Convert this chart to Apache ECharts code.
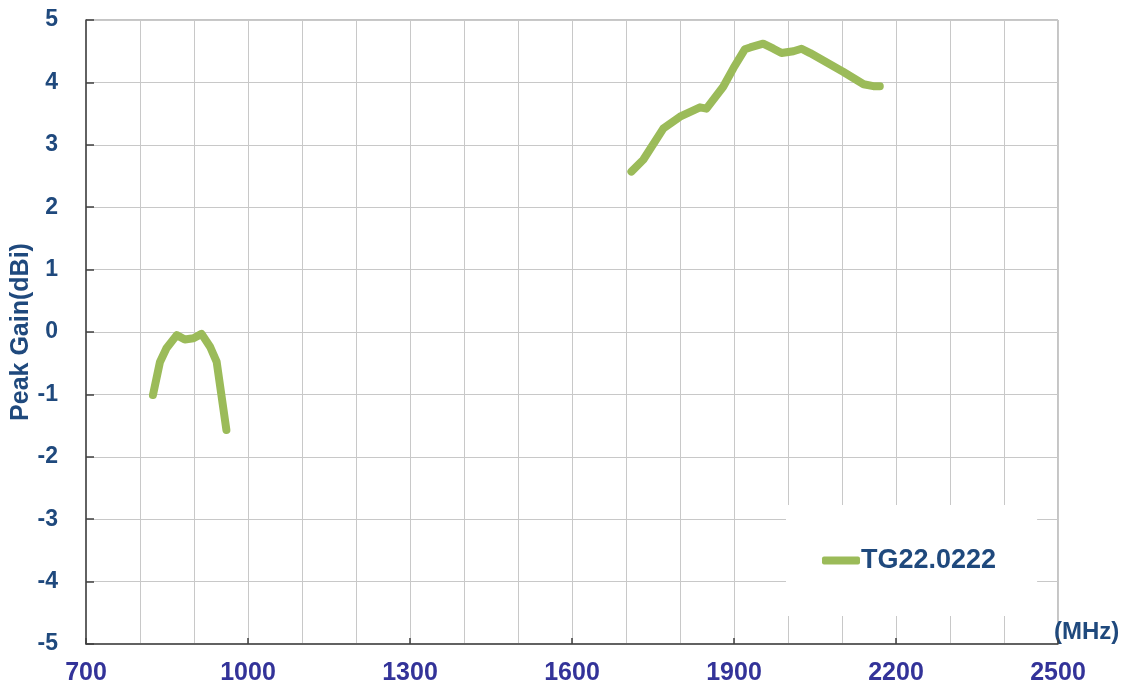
<!DOCTYPE html>
<html><head><meta charset="utf-8">
<script src="https://cdn.jsdelivr.net/npm/echarts@6/dist/echarts.min.js"></script>
<style>html,body{margin:0;padding:0;background:#fff}#c{width:1130px;height:691px}</style>
</head><body><div id="c"></div>
<script>
const seriesName = 'TG22.0222';
const lowFreq = [824, 837, 849, 868, 883, 899, 914, 930, 942, 960];
const lowGain = [-1.01, -0.48, -0.26, -0.05, -0.12, -0.10, -0.03, -0.24, -0.48, -1.57];
const highFreq = [1710, 1732, 1769, 1800, 1837, 1849, 1880, 1899, 1920, 1930, 1954, 1973, 1988, 2010, 2025, 2041, 2102, 2140, 2158, 2170];
const highGain = [2.57, 2.76, 3.26, 3.45, 3.60, 3.58, 3.93, 4.23, 4.53, 4.56, 4.62, 4.54, 4.47, 4.50, 4.54, 4.47, 4.17, 3.97, 3.94, 3.94];

const data = [];
lowFreq.forEach((f, i) => data.push([f, lowGain[i]]));
data.push([null, null]);
highFreq.forEach((f, i) => data.push([f, highGain[i]]));

const FONT = 'Liberation Sans, Arial, sans-serif';
const chart = echarts.init(document.getElementById('c'));
chart.setOption({
  animation: false,
  backgroundColor: '#fff',
  grid: { left: 86, top: 20, right: 72, bottom: 47, containLabel: false, outerBoundsMode: 'none',
          show: true, borderColor: '#8a8a8a', borderWidth: 1, backgroundColor: 'transparent' },
  legend: {
    data: [seriesName],
    left: 786, top: 505,
    padding: [42, 41, 42, 36],
    backgroundColor: '#fff',
    itemWidth: 38, itemHeight: 8, itemGap: 0,
    icon: 'roundRect',
    textStyle: { color: '#1F497D', fontSize: 27, fontWeight: 'bold', fontFamily: FONT, padding: [0,0,0,-4] }
  },
  xAxis: {
    type: 'value', min: 700, max: 2500, interval: 300,
    name: '(MHz)', nameLocation: 'end', nameGap: -4, nameMoveOverlap: false,
    nameTextStyle: { color: '#1F497D', fontSize: 24, fontWeight: 'bold', fontFamily: FONT, verticalAlign: 'bottom', align: 'left' },
    axisLine: { show: true, onZero: false, lineStyle: { color: '#404040', width: 1.5 } },
    axisTick: { show: true, inside: true, length: 6, lineStyle: { color: '#404040', width: 1.5 } },
    minorTick: { show: false, splitNumber: 3 },
    splitLine: { show: true, lineStyle: { color: '#c8c8c8', width: 1 } },
    minorSplitLine: { show: true, lineStyle: { color: '#c8c8c8', width: 1 } },
    axisLabel: { color: '#333399', fontSize: 25, fontWeight: 'bold', fontFamily: FONT, margin: 17,
                 formatter: v => String(v) }
  },
  yAxis: {
    type: 'value', min: -5, max: 5, interval: 1,
    name: 'Peak Gain(dBi)', nameLocation: 'middle', nameGap: 52, nameRotate: 90, nameMoveOverlap: false,
    nameTextStyle: { color: '#1F497D', fontSize: 25, fontWeight: 'bold', fontFamily: FONT },
    axisLine: { show: true, lineStyle: { color: '#404040', width: 1.5 } },
    axisTick: { show: true, inside: true, length: 8, lineStyle: { color: '#404040', width: 1.5 } },
    splitLine: { show: true, lineStyle: { color: '#c8c8c8', width: 1 } },
    axisLabel: { color: '#1F497D', fontSize: 23, fontWeight: 'bold', fontFamily: FONT, margin: 28 }
  },
  series: [{
    name: seriesName, type: 'line', data: data,
    showSymbol: false, symbol: 'none', connectNulls: false,
    lineStyle: { color: '#9BBB59', width: 8, cap: 'round', join: 'round' },
    itemStyle: { color: '#9BBB59' },
    z: 3
  }]
});
</script></body></html>
